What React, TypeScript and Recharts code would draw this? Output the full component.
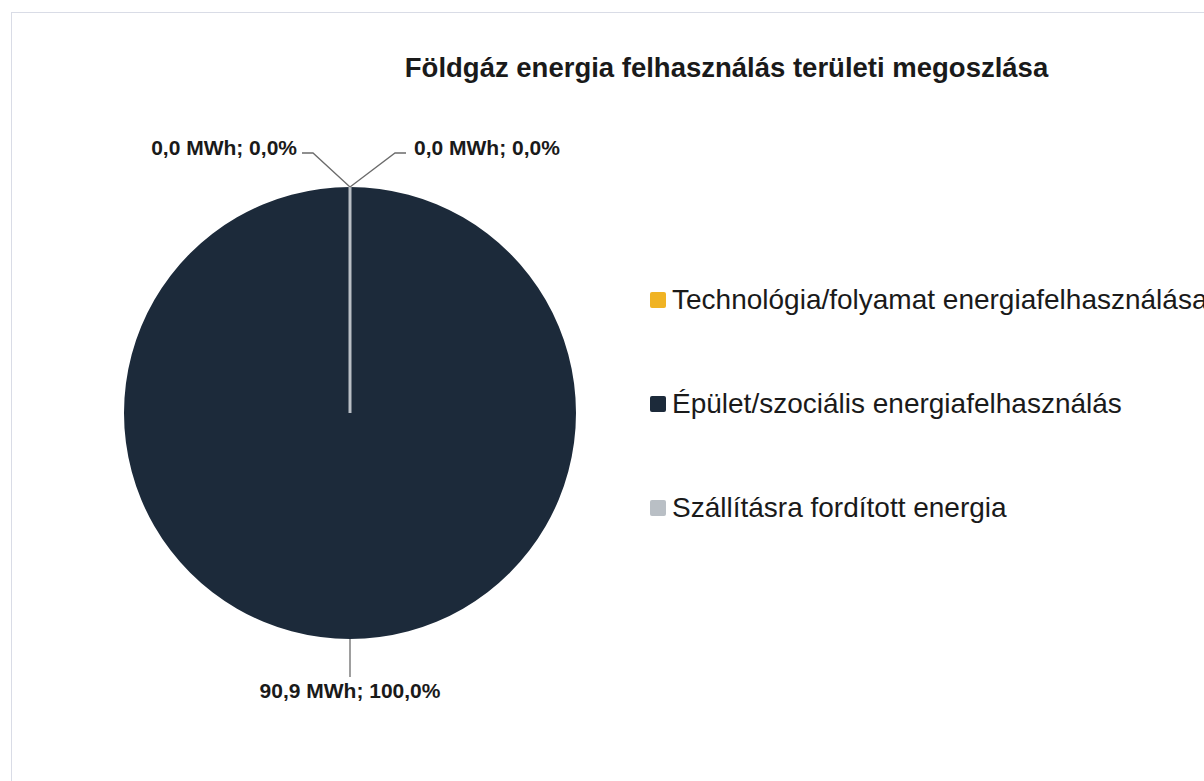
import React from "react";
import { PieChart, Pie, Cell, Legend } from "recharts";

// Földgáz energia felhasználás – területi megoszlás (MWh)
const categories = [
  "Technológia/folyamat energiafelhasználása",
  "Épület/szociális energiafelhasználás",
  "Szállításra fordított energia",
];
const valuesMWh = [0, 90.9, 0];
const colors = ["#f0b323", "#1c2a3a", "#b9bfc5"];

const data = categories.map((name, i) => ({ name, value: valuesMWh[i] }));

const FONT = "'Liberation Sans', Arial, sans-serif";
const RADIAN = Math.PI / 180;
const fmt = (n: number, d = 1) => n.toFixed(d).replace(".", ",");

const renderLabel = (props: any) => {
  const { cx, cy, midAngle, outerRadius, value, percent, index } = props;
  const text = `${fmt(value)} MWh; ${fmt(percent * 100)}%`;
  const ex = cx + outerRadius * Math.cos(-midAngle * RADIAN);
  const ey = cy + outerRadius * Math.sin(-midAngle * RADIAN);
  const style = {
    fontFamily: FONT,
    fontSize: 21,
    fontWeight: 700,
    fill: "#1a1a1a",
  };

  if (value === 0) {
    // zero slices sit at the top, leader lines go up-left / up-right
    const dir = index === 0 ? -1 : 1;
    const kx = ex + dir * (dir < 0 ? 37 : 45);
    const ky = ey - 34;
    const hx = kx + dir * 11;
    const gap = dir < 0 ? 5 : 8;
    return (
      <g key={`lbl-${index}`}>
        {index === categories.length - 1 && (
          <line x1={cx} y1={cy} x2={ex} y2={ey} stroke={colors[index]} strokeWidth={3} />
        )}
        <polyline
          points={`${ex},${ey} ${kx},${ky} ${hx},${ky}`}
          fill="none"
          stroke="#6b6b6b"
          strokeWidth={1.3}
        />
        <text
          x={hx + dir * gap}
          y={ky - 6}
          textAnchor={dir < 0 ? "end" : "start"}
          dominantBaseline="central"
          style={style}
        >
          {text}
        </text>
      </g>
    );
  }

  return (
    <g key={`lbl-${index}`}>
      <line x1={ex} y1={ey} x2={ex} y2={ey + 38} stroke="#6b6b6b" strokeWidth={1.3} />
      <text x={ex} y={ey + 51} textAnchor="middle" dominantBaseline="central" style={style}>
        {text}
      </text>
    </g>
  );
};

const renderLegend = () => (
  <div>
    {categories.map((name, i) => (
      <div
        key={`leg-${i}`}
        style={{
          display: "flex",
          alignItems: "center",
          height: 104,
          whiteSpace: "nowrap",
        }}
      >
        <div
          style={{
            width: 16,
            height: 16,
            borderRadius: 2,
            backgroundColor: colors[i],
            marginRight: 6,
            flexShrink: 0,
          }}
        />
        <span style={{ fontFamily: FONT, fontSize: 28, color: "#1a1a1a" }}>{name}</span>
      </div>
    ))}
  </div>
);

export default function App() {
  return (
    <div
      style={{
        position: "absolute",
        left: 0,
        top: 0,
        width: 1204,
        height: 781,
        overflow: "hidden",
        background: "#fff",
      }}
    >
      <div
        style={{
          position: "absolute",
          left: 11,
          top: 12,
          width: 1300,
          height: 900,
          border: "1px solid #d9dce6",
        }}
      />
      <div
        style={{
          position: "absolute",
          left: 0,
          top: 52,
          width: 1453,
          textAlign: "center",
          fontFamily: FONT,
          fontSize: 27.5,
          fontWeight: 700,
          color: "#1a1a1a",
          whiteSpace: "nowrap",
        }}
      >
        Földgáz energia felhasználás területi megoszlása
      </div>
      <div style={{ position: "absolute", left: 0, top: 0 }}>
        <PieChart width={1204} height={781}>
          <Pie
            data={data}
            dataKey="value"
            nameKey="name"
            cx={345}
            cy={408}
            outerRadius={226}
            startAngle={90}
            endAngle={-270}
            stroke="none"
            label={renderLabel}
            labelLine={false}
            isAnimationActive={false}
          >
            {data.map((entry, index) => (
              <Cell key={`cell-${index}`} fill={colors[index]} />
            ))}
          </Pie>
          <Legend
            layout="vertical"
            content={renderLegend}
            wrapperStyle={{ left: 650, top: 248, width: 700 }}
          />
        </PieChart>
      </div>
    </div>
  );
}
